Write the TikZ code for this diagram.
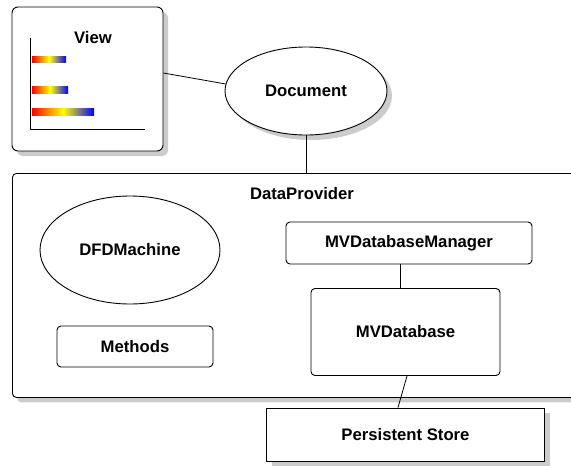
\documentclass[tikz,border=0pt]{standalone}
\usepackage{fontspec}
\setmainfont{Liberation Sans}
\usetikzlibrary{shapes.geometric,shadows}
\begin{document}
\begin{tikzpicture}[x=1pt,y=-1pt,
  every node/.style={font=\fontsize{16.7}{19}\selectfont\bfseries, inner sep=0pt},
  ln/.style={draw=black, line width=0.9pt},
  shd/.style={drop shadow={shadow xshift=5pt, shadow yshift=-5pt, fill=black!20, opacity=1}},
  rbox/.style={ln, fill=white, rounded corners=4pt, rectangle},
  ebox/.style={ln, fill=white, ellipse},
  bar/.style={left color=red, right color=blue, middle color=yellow}
]
\useasboundingbox (0,0) rectangle (571,466);
% View
\node[rbox, shd, minimum width=151pt, minimum height=144pt, rounded corners=6pt] (view) at (87.5,79) {};
\node (viewlabel) at (93,38) {View};
\draw[line width=0.9pt] (30,38) -- (30,129) -- (145,129);
\shade[bar] (32,56) rectangle (66,62);
\shade[bar] (32,86) rectangle (68,93);
\shade[bar] (32,108) rectangle (94,115);
% Document
\node[ebox, shd, minimum width=162pt, minimum height=88pt] (doc) at (306,91) {Document};
% DataProvider
\node[rbox, shd, minimum width=578pt, minimum height=224pt, anchor=north west] (dp) at (12,173) {};
\node (dplabel) at (302,194) {DataProvider};
% inner
\node[ebox, minimum width=180pt, minimum height=108pt] (dfd) at (130,250) {DFDMachine};
\node[rbox, minimum width=246pt, minimum height=42pt] (mgr) at (409,243) {MVDatabaseManager};
\node[rbox, minimum width=189pt, minimum height=87pt] (mvdb) at (405.5,332) {MVDatabase};
\node[rbox, minimum width=156pt, minimum height=41pt] (meth) at (135,346.5) {Methods};
\node[ln, fill=white, shd, rectangle, minimum width=278pt, minimum height=53pt] (store) at (405.5,434.5) {\raisebox{-3pt}{Persistent Store}};
% connectors
\draw[line width=0.8pt] ([yshift=6pt]view.east) -- (doc.175);
\draw[line width=0.8pt] (doc.south) -- (doc.south |- dp.north);
\draw[line width=0.8pt] ([xshift=-9pt]mgr.south) -- ([xshift=-9pt]mgr.south |- mvdb.north);
\draw[line width=0.8pt] ([xshift=1.5pt]mvdb.south) -- ([xshift=-7.5pt]store.north);
\end{tikzpicture}
\end{document}
